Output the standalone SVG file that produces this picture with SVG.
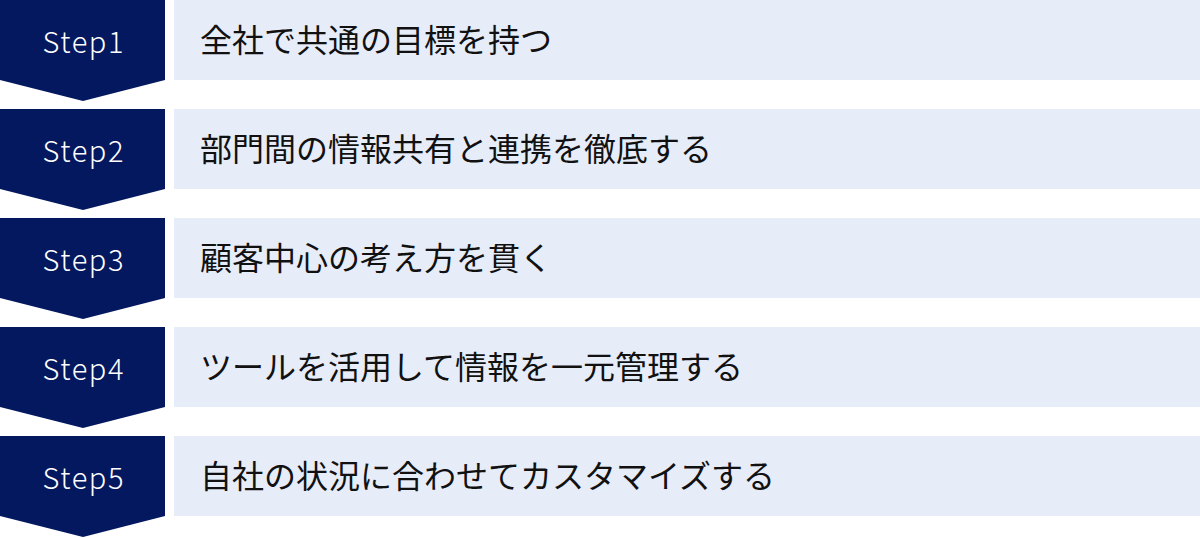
<svg xmlns="http://www.w3.org/2000/svg" width="1200" height="538" viewBox="0 0 1200 538">
<style>
.chev{fill:#04185F}
.box{fill:#E7ECF9}
.step{font-family:"Noto Sans CJK JP","Noto Sans",sans-serif;font-size:29px;font-weight:300;letter-spacing:1.6px;fill:#FFFFFF;text-anchor:middle}
.label{font-family:"Noto Sans CJK JP",sans-serif;font-size:32px;fill:#111111}
</style>
<rect width="1200" height="538" fill="#FFFFFF"/>
<g id="step1">
<path class="chev" d="M0,0H165V80L83,101L0,80Z"/>
<rect class="box" x="174" y="0" width="1026" height="80"/>
<text class="step" x="83.8" y="53">Step1</text>
<text class="label" x="200" y="52">全社で共通の目標を持つ</text>
</g>
<g id="step2">
<path class="chev" d="M0,109H165V189L83,210L0,189Z"/>
<rect class="box" x="174" y="109" width="1026" height="80"/>
<text class="step" x="83.8" y="162">Step2</text>
<text class="label" x="200" y="161">部門間の情報共有と連携を徹底する</text>
</g>
<g id="step3">
<path class="chev" d="M0,218H165V298L83,319L0,298Z"/>
<rect class="box" x="174" y="218" width="1026" height="80"/>
<text class="step" x="83.8" y="271">Step3</text>
<text class="label" x="200" y="270">顧客中心の考え方を貫く</text>
</g>
<g id="step4">
<path class="chev" d="M0,327H165V407L83,428L0,407Z"/>
<rect class="box" x="174" y="327" width="1026" height="80"/>
<text class="step" x="83.8" y="380">Step4</text>
<text class="label" x="200" y="379">ツールを活用して情報を一元管理する</text>
</g>
<g id="step5">
<path class="chev" d="M0,436H165V516L83,537L0,516Z"/>
<rect class="box" x="174" y="436" width="1026" height="80"/>
<text class="step" x="83.8" y="489">Step5</text>
<text class="label" x="200" y="488">自社の状況に合わせてカスタマイズする</text>
</g>
<g id="connectors"/>
</svg>
